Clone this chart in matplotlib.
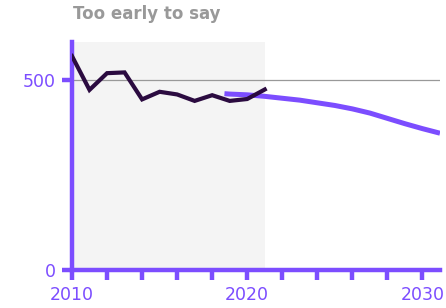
import matplotlib
matplotlib.use("Agg")
import matplotlib.pyplot as plt

# Actual series (dark line)
actual_years = [2010, 2011, 2012, 2013, 2014, 2015, 2016, 2017, 2018, 2019, 2020, 2021]
actual_vals = [563, 474, 518, 520, 449, 469, 462, 445, 460, 445, 450, 475]

# Projection (purple line)
proj_years = [2018.7, 2019, 2020, 2021, 2022, 2023, 2024, 2025, 2026, 2027, 2028, 2029, 2030, 2031]
proj_vals = [464, 463, 461, 457, 452, 447, 440, 433, 424, 413, 399, 385, 372, 360]

x_ticks = list(range(2010, 2031, 2))
x_labels = ["2010" if y == 2010 else "2020" if y == 2020 else "2030" if y == 2030 else "" for y in x_ticks]
y_ticks = [0, 500]
title = "Too early to say"

purple = "#7c4dff"
dark = "#2b0b40"

fig = plt.figure(figsize=(4.46, 3.08), dpi=100)
ax = fig.add_axes([0.1614, 0.1234, 0.8251, 0.7402])

ax.axvspan(2010, 2021, color="#f4f4f4", zorder=0, lw=0)
ax.axhline(500, color="#999999", lw=0.9, zorder=1)
ax.plot(proj_years, proj_vals, color=purple, lw=3.6, solid_capstyle="butt", zorder=2)
ax.plot(actual_years, actual_vals, color=dark, lw=3.0, solid_joinstyle="miter", zorder=3)

ax.set_xlim(2010, 2031)
ax.set_ylim(0, 600)

for s in ["top", "right"]:
    ax.spines[s].set_visible(False)
for s in ["left", "bottom"]:
    ax.spines[s].set_color(purple)
    ax.spines[s].set_linewidth(3.2)

ax.set_xticks(x_ticks)
ax.set_xticklabels(x_labels)
ax.set_yticks(y_ticks)
ax.tick_params(axis="both", colors=purple, width=3.2, length=7.5, labelsize=12.5, pad=4)
ax.tick_params(axis="x", pad=4)

fig.text(0.163, 0.955, title, color="#999999", fontsize=12, fontweight="bold", ha="left", va="center")

fig.savefig("out.png", dpi=100)
